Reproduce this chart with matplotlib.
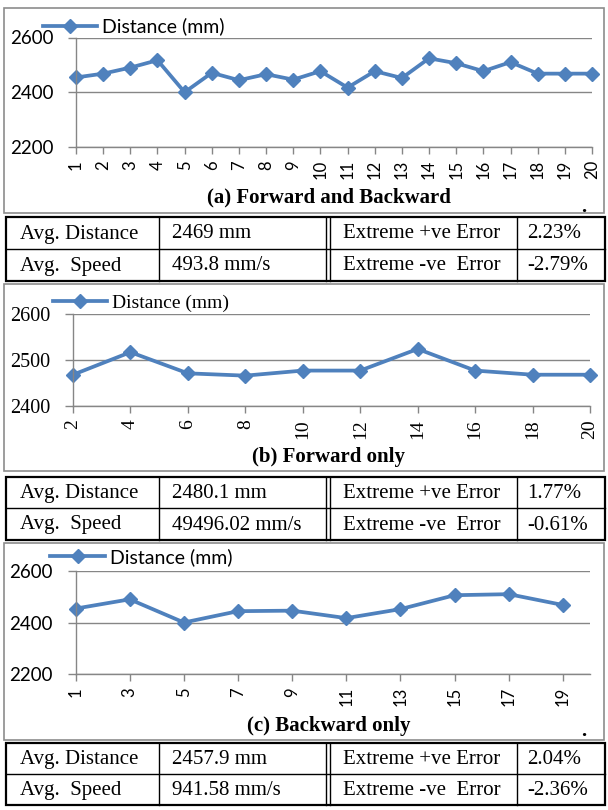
import matplotlib.pyplot as plt
from matplotlib.lines import Line2D
from matplotlib.patches import Rectangle

# trial distances (mm)
trials_all = list(range(1, 21))
dist_all = [2454, 2468, 2490, 2517, 2400, 2471, 2444, 2466, 2446, 2477,
            2417, 2477, 2452, 2524, 2506, 2477, 2510, 2468, 2468, 2468]

trials_fwd = [2, 4, 6, 8, 10, 12, 14, 16, 18, 20]
dist_fwd = [2468, 2517, 2471, 2466, 2477, 2477, 2524, 2477, 2468, 2468]

trials_bwd = [1, 3, 5, 7, 9, 11, 13, 15, 17, 19]
dist_bwd = [2454, 2490, 2400, 2444, 2446, 2417, 2452, 2506, 2510, 2468]

table_a = [["Avg. Distance", "2469 mm", "Extreme +ve Error", "2.23%"],
           ["Avg.  Speed", "493.8 mm/s", "Extreme -ve  Error", "-2.79%"]]
table_b = [["Avg. Distance", "2480.1 mm", "Extreme +ve Error", "1.77%"],
           ["Avg.  Speed", "49496.02 mm/s", "Extreme -ve  Error", "-0.61%"]]
table_c = [["Avg. Distance", "2457.9 mm", "Extreme +ve Error", "2.04%"],
           ["Avg.  Speed", "941.58 mm/s", "Extreme -ve  Error", "-2.36%"]]

W, H = 608, 810
BLUE = '#4F81BD'
GREY = '#868686'
SERIF = 'Liberation Serif'
SANS = 'Lato'

fig = plt.figure(figsize=(W / 100, H / 100), dpi=100)


def px_axes(x0, y0, x1, y1):
    return fig.add_axes([x0 / W, 1 - y1 / H, (x1 - x0) / W, (y1 - y0) / H])


def line_panel(box, xs, ys, labels, xlim, ylim, yticks, font, yfs, xfs, lfs, leg_xy):
    ax = px_axes(*box)
    ax.plot(xs, ys, color=BLUE, lw=2.7, marker='D', ms=7.5,
            label='Distance (mm)', clip_on=False)
    ax.set_xlim(*xlim)
    ax.set_ylim(*ylim)
    ax.set_yticks(yticks)
    ax.set_yticklabels([str(v) for v in yticks], family=font, fontsize=yfs)
    ax.set_xticks(xs)
    ax.set_xticklabels(labels, rotation=90, family=font, fontsize=xfs)
    ax.grid(axis='y', color=GREY, lw=1)
    ax.set_axisbelow(True)
    for s in ('top', 'right'):
        ax.spines[s].set_visible(False)
    for s in ('left', 'bottom'):
        ax.spines[s].set_color(GREY)
        ax.spines[s].set_linewidth(1)
    ax.tick_params(axis='y', direction='out', length=5.8, width=1, color=GREY, pad=10.5)
    ax.tick_params(axis='x', direction='out', length=5, width=1, color=GREY, pad=4.5)
    ax.set_facecolor('none')
    ax.legend(loc='center left', bbox_to_anchor=leg_xy, frameon=False,
              prop={'family': font, 'size': lfs}, handlelength=2.8,
              handletextpad=0.25, borderpad=0, borderaxespad=0)
    return ax


line_panel((76, 37.5, 592, 147), trials_all, dist_all, [str(t) for t in trials_all],
           (1, 20), (2200, 2600), [2200, 2400, 2600], SANS, 13.5, 12, 14, (-0.064, 1.1))

pos_f = list(range(len(trials_fwd)))
line_panel((73, 314, 590, 406), pos_f, dist_fwd, [str(t) for t in trials_fwd],
           (0, 9), (2400, 2600), [2400, 2500, 2600], SERIF, 14.5, 14, 14, (-0.039, 1.123))

pos_b = list(range(len(trials_bwd)))
line_panel((75.6, 571, 590, 674), pos_b, dist_bwd, [str(t) for t in trials_bwd],
           (0, 9.5), (2200, 2600), [2200, 2400, 2600], SANS, 13.5, 12, 14, (-0.049, 1.136))

# frames, captions and summary tables drawn in pixel space
ov = fig.add_axes([0, 0, 1, 1])
ov.set_xlim(0, W)
ov.set_ylim(H, 0)
ov.axis('off')
ov.set_facecolor('none')

for (y0, y1) in [(8, 213), (284, 471), (543, 740)]:
    ov.add_patch(Rectangle((4, y0), 600, y1 - y0, fill=False, ec='#8C8C8C', lw=1.2))

captions = [("(a) Forward and Backward", 197), ("(b) Forward only", 457),
            ("(c) Backward only", 726)]
for txt, y in captions:
    ov.text(329, y, txt, ha='center', va='center', family=SERIF,
            fontsize=15, fontweight='bold')
ov.text(584, 207, '.', ha='center', va='center', family=SERIF, fontsize=15, fontweight='bold')
ov.text(584, 731, '.', ha='center', va='center', family=SERIF, fontsize=15, fontweight='bold')

col_x = [20, 172, 343, 527]
for rows, (top, mid, bot) in [(table_a, (217, 249, 281)),
                              (table_b, (477, 508, 540)),
                              (table_c, (743, 774, 805))]:
    ov.add_patch(Rectangle((6, top), 599, bot - top, fill=False, ec='black', lw=1.6))
    ov.add_line(Line2D([6, 605], [mid, mid], color='black', lw=1))
    for x in (159, 326, 330, 517):
        ov.add_line(Line2D([x, x], [top, bot], color='black', lw=1))
    for r, yc in zip(rows, [(top + mid) / 2, (mid + bot) / 2]):
        for x, txt in zip(col_x, r):
            ov.text(x, yc + 1, txt, ha='left', va='center', family=SERIF, fontsize=15)

fig.savefig('out.png', dpi=100)
